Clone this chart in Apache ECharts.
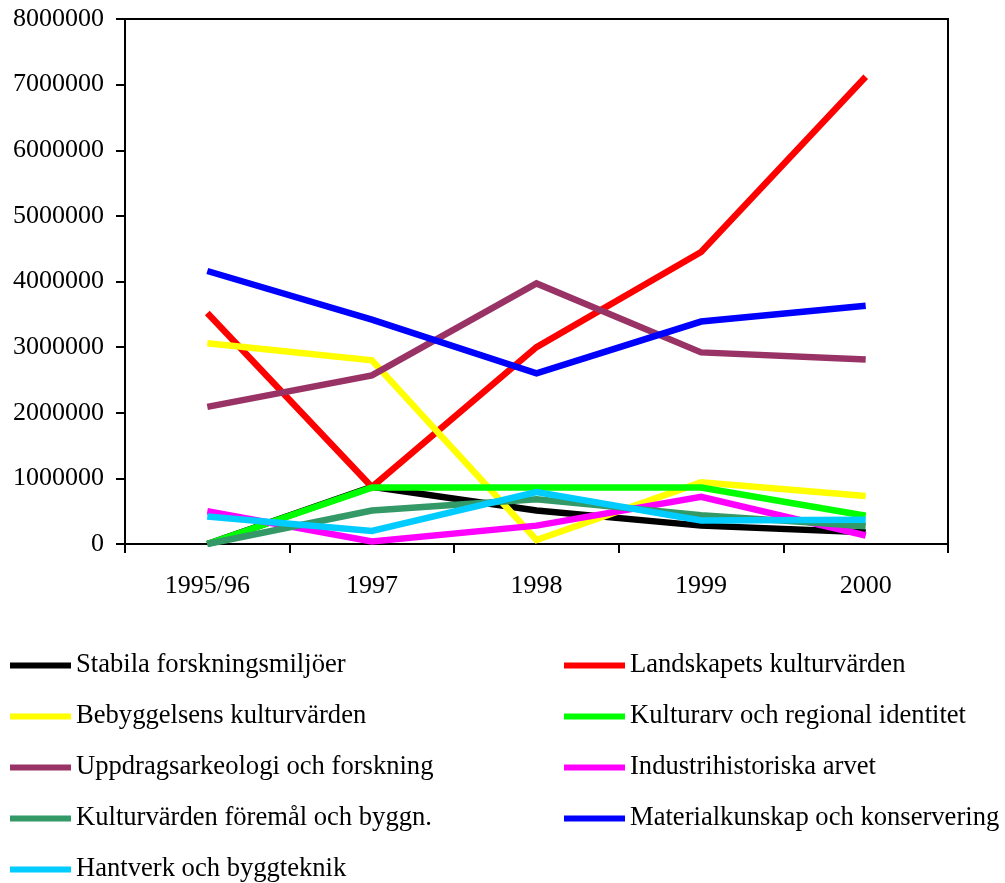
<!DOCTYPE html>
<html>
<head>
<meta charset="utf-8">
<script src="https://cdn.jsdelivr.net/npm/echarts@6/dist/echarts.min.js"></script>
<style>
  html, body { margin: 0; padding: 0; background: #fff; }
  #chart { width: 1005px; height: 883px; }
</style>
</head>
<body>
<div id="chart"></div>
<script>
// categories on x
const years = ['1995/96', '1997', '1998', '1999', '2000']

// series names (in drawing order)
const names = [
  'Stabila forskningsmiljöer',
  'Landskapets kulturvärden',
  'Bebyggelsens kulturvärden',
  'Kulturarv och regional identitet',
  'Uppdragsarkeologi och forskning',
  'Industrihistoriska arvet',
  'Kulturvärden föremål och byggn.',
  'Materialkunskap och konservering',
  'Hantverk och byggteknik'
]
const colors = ['#000000', '#FF0000', '#FFFF00', '#00FF00', '#993366', '#FF00FF', '#339966', '#0000FF', '#00CCFF']

// values
const stabila = [0, 870000, 510000, 280000, 180000]
const landskap = [3520000, 870000, 3000000, 4450000, 7120000]
const bebyggelse = [3060000, 2800000, 60000, 940000, 730000]
const kulturarv = [0, 860000, 860000, 860000, 430000]
const uppdrag = [2090000, 2570000, 3970000, 2920000, 2810000]
const industri = [500000, 40000, 280000, 720000, 130000]
const foremal = [0, 510000, 680000, 440000, 270000]
const material = [4160000, 3420000, 2600000, 3390000, 3630000]
const hantverk = [420000, 200000, 790000, 360000, 370000]

const values = [stabila, landskap, bebyggelse, kulturarv, uppdrag, industri, foremal, material, hantverk]

// legend columns (row-major order in the picture)
const legendLeft = [names[0], names[2], names[4], names[6], names[8]]
const legendRight = [names[1], names[3], names[5], names[7]]

const font = 'Liberation Serif, Times New Roman, serif'

const chart = echarts.init(document.getElementById('chart'))

const legendBase = {
  orient: 'vertical',
  top: 652,
  height: 231,
  padding: 0,
  icon: 'rect',
  itemWidth: 61,
  itemHeight: 6,
  itemGap: 24,
  selectedMode: false,
  textStyle: { fontFamily: font, fontSize: 26.6, color: '#000', lineHeight: 27 }
}

chart.setOption({
  animation: false,
  backgroundColor: '#fff',
  grid: {
    left: 125, top: 19, right: 57, bottom: 339,
    show: true, borderColor: '#000', borderWidth: 2,
    containLabel: false, outerBoundsMode: 'none'
  },
  legend: [
    Object.assign({}, legendBase, { left: 10, data: legendLeft }),
    Object.assign({}, legendBase, { left: 564, data: legendRight })
  ],
  xAxis: {
    type: 'category',
    data: years,
    boundaryGap: true,
    axisLine: { lineStyle: { color: '#000', width: 2 } },
    axisTick: { show: true, length: 9, lineStyle: { color: '#000', width: 2 } },
    axisLabel: { fontFamily: font, fontSize: 26, color: '#000', margin: 29 },
    splitLine: { show: false }
  },
  yAxis: {
    type: 'value',
    min: 0, max: 8000000, interval: 1000000,
    axisLine: { show: true, lineStyle: { color: '#000', width: 2 } },
    axisTick: { show: true, length: 9, lineStyle: { color: '#000', width: 2 } },
    axisLabel: { fontFamily: font, fontSize: 26, color: '#000', margin: 21, formatter: v => String(v) },
    splitLine: { show: false }
  },
  series: names.map((n, i) => ({
    name: n,
    type: 'line',
    data: values[i],
    color: colors[i],
    showSymbol: false,
    symbol: 'none',
    lineStyle: { width: 6.5, color: colors[i], cap: 'butt', join: 'miter' },
    z: 2 + i
  }))
})
</script>
</body>
</html>
